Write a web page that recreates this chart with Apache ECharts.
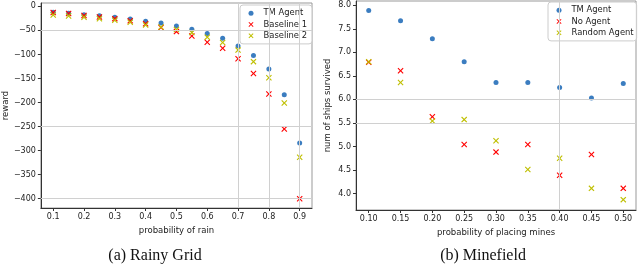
<!DOCTYPE html>
<html><head><meta charset="utf-8">
<script src="https://cdn.jsdelivr.net/npm/echarts@6/dist/echarts.min.js"></script>
<style>html,body{margin:0;padding:0;background:#fff}#c{width:640px;height:268px}</style>
</head><body><div id="c"></div>
<script>
// ---- Rainy Grid data ----
const rainX = [0.1,0.15,0.2,0.25,0.3,0.35,0.4,0.45,0.5,0.55,0.6,0.65,0.7,0.75,0.8,0.85,0.9];
const rainTM = [-12.4,-14.5,-17.3,-19.3,-22.8,-26.2,-31,-34.5,-40.7,-47.7,-56.6,-66.3,-82.2,-102.2,-130.5,-183.7,-284.2];
const rainB1 = [-13,-15,-19,-22,-25.5,-30,-36,-44,-52.5,-61.5,-74.6,-87,-109,-139.5,-182.3,-255,-400];
const rainB2 = [-18,-20,-22.8,-25.6,-29,-33,-38.7,-43,-48.3,-54.6,-64,-75.3,-91,-115,-148.5,-201,-313.7];
const rainXTicks = [0.1,0.2,0.3,0.4,0.5,0.6,0.7,0.8,0.9];
const rainYTicks = [0,-50,-100,-150,-200,-250,-300,-350,-400];
// ---- Minefield data ----
const mineX = [0.10,0.15,0.20,0.25,0.30,0.35,0.40,0.45,0.50];
const mineTM = [7.89,7.67,7.29,6.80,6.36,6.36,6.25,6.03,6.34];
const mineNo = [6.79,6.61,5.63,5.04,4.88,5.04,4.39,4.83,4.11];
const mineRand = [6.80,6.36,5.54,5.57,5.12,4.51,4.75,4.11,3.87];
const mineXTicks = [0.10,0.15,0.20,0.25,0.30,0.35,0.40,0.45,0.50];
const mineYTicks = [4.0,4.5,5.0,5.5,6.0,6.5,7.0,7.5,8.0];

const BLUE = '#3b7dc0', RED = '#ff0000', YEL = '#bfbf00';
const XSYM = 'path://M0,1.3L1.3,0L5,3.7L8.7,0L10,1.3L6.3,5L10,8.7L8.7,10L5,6.3L1.3,10L0,8.7L3.7,5Z';
const FONT = 'DejaVu Sans';
const pair = (xs, ys) => xs.map((x, i) => [x, ys[i]]);
const minus = v => v < 0 ? '\u2212' + (-v) : String(v);

function xAx(gi, min, max, ticks, dec, name, gap) {
  return {type:'value', gridIndex:gi, min, max, position:'bottom',
    axisLine:{show:true, onZero:false, lineStyle:{color:'#333', width:1}},
    axisTick:{show:true, customValues:ticks, length:3, lineStyle:{color:'#333'}},
    axisLabel:{customValues:ticks, formatter:v=>v.toFixed(dec), fontFamily:FONT, fontSize:8, color:'#222', margin:5},
    splitLine:{show:false},
    name, nameLocation:'middle', nameGap:gap, nameTextStyle:{fontFamily:FONT, fontSize:8.5, color:'#222'}};
}
function yAx(gi, min, max, ticks, fmt, name, gap) {
  return {type:'value', gridIndex:gi, min, max,
    axisLine:{show:true, onZero:false, lineStyle:{color:'#333', width:1}},
    axisTick:{show:true, customValues:ticks, length:3, lineStyle:{color:'#333'}},
    axisLabel:{customValues:ticks, formatter:fmt, fontFamily:FONT, fontSize:8, color:'#222', margin:5},
    splitLine:{show:false},
    name, nameLocation:'middle', nameGap:gap, nameRotate:90, nameTextStyle:{fontFamily:FONT, fontSize:8.5, color:'#222'}};
}
function gridLines(xs, ys) {
  return {silent:true, symbol:'none', label:{show:false}, animation:false,
    lineStyle:{color:'#d0d0d0', width:1, type:'solid'},
    data:[...xs.map(v=>({xAxis:v})), ...ys.map(v=>({yAxis:v}))]};
}
function sc(name, gi, data, color, sym, size, ml) {
  const s = {type:'scatter', name, xAxisIndex:gi, yAxisIndex:gi, data, symbol:sym, symbolSize:size,
    itemStyle:{color, opacity:1}, animation:false, z:3};
  if (ml) s.markLine = ml;
  return s;
}
function leg(names, left, top, pad) {
  return {data:names, orient:'vertical', left, top,
    itemWidth:5, itemHeight:5, itemGap:0, padding:pad,
    borderColor:'#ccc', borderWidth:1, borderRadius:3, backgroundColor:'rgba(255,255,255,0.85)',
    textStyle:{fontFamily:FONT, fontSize:8.4, color:'#222', lineHeight:11.3, padding:[0,0,0,5]}};
}

const chart = echarts.init(document.getElementById('c'), null, {renderer:'canvas'});
chart.setOption({
  animation:false,
  grid:[
    {left:36, top:3, width:276, height:205, show:true, borderColor:'#999', borderWidth:1, containLabel:false},
    {left:356, top:1, width:280, height:209, show:true, borderColor:'#999', borderWidth:1, containLabel:false}
  ],
  xAxis:[
    xAx(0, 0.06, 0.94, rainXTicks, 1, 'probability of rain', 18),
    xAx(1, 0.08, 0.52, mineXTicks, 2, 'probability of placing mines', 18)
  ],
  yAxis:[
    yAx(0, -419.4, 7.0, rainYTicks, minus, 'reward', 30),
    yAx(1, 3.65, 8.09, mineYTicks, v=>v.toFixed(1), 'num of ships survived', 24)
  ],
  legend:[
    leg(['TM Agent','Baseline 1','Baseline 2'], 240, 5, [2.5,5,2.5,8.5]),
    leg(['TM Agent','No Agent','Random Agent'], 548, 2, [2.5,3,2.5,8.5])
  ],
  series:[
    sc('TM Agent', 0, pair(rainX, rainTM), BLUE, 'circle', 5, gridLines([0.7,0.8,0.9], [-50,-250,-400])),
    sc('Baseline 1', 0, pair(rainX, rainB1), RED, XSYM, 6),
    sc('Baseline 2', 0, pair(rainX, rainB2), YEL, XSYM, 6),
    sc('TM Agent', 1, pair(mineX, mineTM), BLUE, 'circle', 5, gridLines([0.40], [5.5,6.0])),
    sc('No Agent', 1, pair(mineX, mineNo), RED, XSYM, 6),
    sc('Random Agent', 1, pair(mineX, mineRand), YEL, XSYM, 6)
  ],
  graphic:[
    {type:'text', x:155, y:256, style:{text:'(a) Rainy Grid', font:'16px "Liberation Serif"', fill:'#111', textAlign:'center', textVerticalAlign:'middle'}},
    {type:'text', x:483, y:256, style:{text:'(b) Minefield', font:'16px "Liberation Serif"', fill:'#111', textAlign:'center', textVerticalAlign:'middle'}}
  ]
});
</script></body></html>
